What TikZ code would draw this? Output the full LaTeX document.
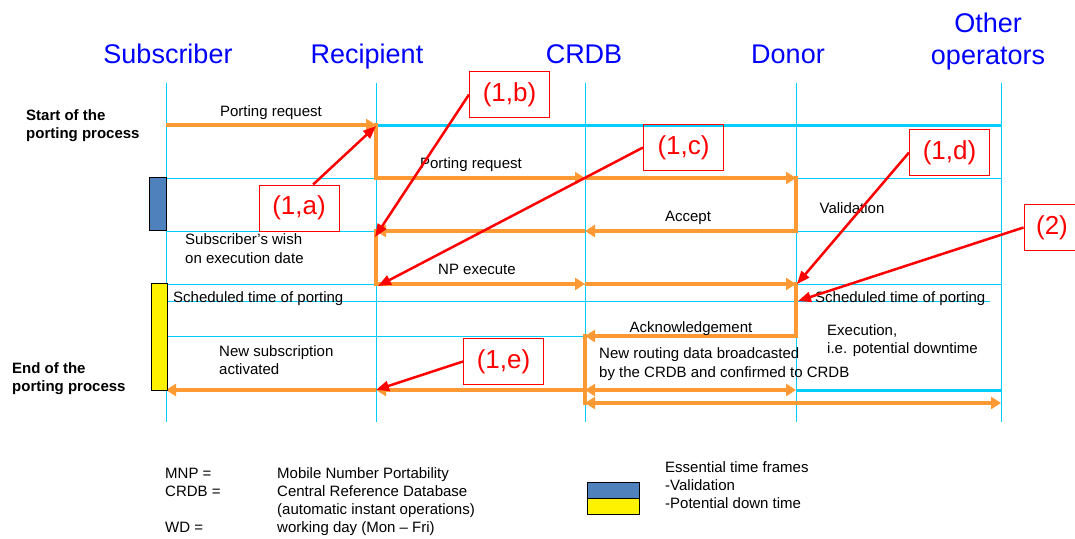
\documentclass[tikz,border=0pt]{standalone}
\usepackage{fontspec}
\setmainfont{Liberation Sans}
\usetikzlibrary{arrows.meta}
\definecolor{orng}{HTML}{FF9933}
\definecolor{cyn}{HTML}{00CCFF}
\definecolor{barblue}{HTML}{4F81BD}
\definecolor{hdrblue}{HTML}{0000FF}
\begin{document}
\begin{tikzpicture}[x=1pt,y=-1pt,
  lbl/.style={font=\fontsize{15}{18}\selectfont, inner sep=0pt, align=left},
  boldlbl/.style={lbl, font=\fontsize{15}{18}\selectfont\bfseries},
  hdr/.style={font=\fontsize{27}{32}\selectfont, text=hdrblue, inner sep=0pt},
  gridline/.style={cyn, line width=1pt},
  gridthick/.style={cyn, line width=3pt},
  flow/.style={orng, line width=4pt, line cap=rect},
  flowarr/.style={orng, line width=4pt, -{Triangle[length=10pt,width=12pt]}},
  flowdbl/.style={orng, line width=4pt, {Triangle[length=10pt,width=12pt]}-{Triangle[length=10pt,width=12pt]}},
  callout/.style={draw=red, line width=1pt, text=red, font=\fontsize{26}{30}\selectfont, minimum width=80pt, minimum height=46pt, inner sep=0pt},
  callarr/.style={red, line width=2.5pt, -{Triangle[length=13pt,width=10pt]}},
  bar/.style={draw=black, line width=1pt}
]
\useasboundingbox (0,0) rectangle (1075,538);
\clip (0,0) rectangle (1075,538);

% lifelines
\coordinate (S) at (166,83);  \coordinate (Sb) at (166,422);
\coordinate (R) at (376,83);  \coordinate (Rb) at (376,422);
\coordinate (C) at (585,83);  \coordinate (Cb) at (585,422);
\coordinate (D) at (796,83);  \coordinate (Db) at (796,422);
\coordinate (O) at (1001,83); \coordinate (Ob) at (1001,422);
% rows
\coordinate (y1) at (0,125);
\coordinate (y2) at (0,178);
\coordinate (y3) at (0,231);
\coordinate (y4) at (0,284);
\coordinate (y5) at (0,301);
\coordinate (y6) at (0,336);
\coordinate (y7) at (0,390);
\coordinate (y8) at (0,403);
\coordinate (e5) at (990,301);

% headers
\node[hdr, anchor=base] (hS) at (168,63) {Subscriber};
\node[hdr, anchor=base] (hR) at (367,63) {Recipient};
\node[hdr, anchor=base] (hC) at (584,63) {CRDB};
\node[hdr, anchor=base] (hD) at (788,63) {Donor};
\node[hdr, anchor=base] (hO1) at (988,32) {Other};
\node[hdr, anchor=base] (hO2) at (988,64) {operators};

% grid
\foreach \l in {S,R,C,D,O} {\draw[gridline] (\l) -- (\l b);}
\draw[gridthick] (R|-y1) -- (O|-y1);
\draw[gridline] (S|-y2) -- (O|-y2);
\draw[gridline] (S|-y3) -- (O|-y3);
\draw[gridline] (S|-y4) -- (O|-y4);
\draw[gridline] (S|-y5) -- (e5);
\draw[gridline] (S|-y6) -- (C|-y6);
\draw[gridthick] (D|-y7) -- (O|-y7);

% orange flow
\draw[flow] (R|-y1) -- (R|-y2);
\draw[flow] (D|-y2) -- (D|-y3);
\draw[flow] (R|-y3) -- (R|-y4);
\draw[flow] (D|-y4) -- (D|-y6);
\draw[flow] (C|-y6) -- (C|-y8);
\draw[flowarr] (S|-y1) -- (R|-y1);
\draw[flowarr] (R|-y2) -- (C|-y2);
\draw[flowarr] (C|-y2) -- (D|-y2);
\draw[flowarr] (D|-y3) -- (C|-y3);
\draw[flowarr] (C|-y3) -- (R|-y3);
\draw[flowarr] (R|-y4) -- (C|-y4);
\draw[flowarr] (C|-y4) -- (D|-y4);
\draw[flowarr] (D|-y6) -- (C|-y6);
\draw[flowarr] (C|-y7) -- (R|-y7);
\draw[flowarr] (R|-y7) -- (S|-y7);
\draw[flowdbl] (C|-y7) -- (D|-y7);
\draw[flowdbl] (C|-y8) -- (O|-y8);

% time-frame bars
\draw[bar, fill=barblue] (149,177) rectangle (166,230);
\draw[bar, fill=yellow] (151,283) rectangle (167,390);

% labels
\node[boldlbl, anchor=north west] (start) at (26,109) {Start of the\\porting process};
\node[boldlbl, anchor=north west] (end) at (12,362) {End of the\\porting process};
\node[lbl, anchor=base] (m1) at (271,116) {Porting request};
\node[lbl, anchor=base] (m2) at (471,168) {Porting request};
\node[lbl, anchor=base] (m3) at (688,221) {Accept};
\node[lbl, anchor=base] (val) at (852,213) {Validation};
\node[lbl, anchor=north west, font=\fontsize{15}{19}\selectfont] (wish) at (185,233) {Subscriber's wish\\on execution date};
\node[lbl, anchor=base] (m4) at (477,274) {NP execute};
\node[lbl, anchor=base west] (sch1) at (173,302) {Scheduled time of porting};
\node[lbl, anchor=base west] (sch2) at (815,302) {Scheduled time of porting};
\node[lbl, anchor=base] (m5) at (691,332) {Acknowledgement};
\node[lbl, anchor=north west] (exe) at (827,324) {Execution,\\i.e. potential downtime};
\node[lbl, anchor=north west] (nsub) at (219,345) {New subscription\\activated};
\node[lbl, anchor=north west, font=\fontsize{15}{19}\selectfont] (nrout) at (599,347) {New routing data broadcasted\\by the CRDB and confirmed to CRDB};

% callouts
\node[callout] (ca) at (299,208) {(1,a)};
\node[callout] (cb) at (509.5,94.5) {(1,b)};
\node[callout] (cc) at (683.5,147.5) {(1,c)};
\node[callout] (cd) at (949.5,152.5) {(1,d)};
\node[callout, minimum width=56pt] (c2) at (1052,227.5) {(2)};
\node[callout] (ce) at (503.5,361.5) {(1,e)};
\coordinate (ta) at (376,126);
\coordinate (tb) at (375,237);
\coordinate (tc) at (378,286);
\coordinate (td) at (797,284);
\coordinate (t2) at (798,301);
\coordinate (te) at (376,390);
\draw[callarr] (ca.59) -- (ta);
\draw[callarr] (cb.west) -- (tb);
\draw[callarr] (cc.west) -- (tc);
\draw[callarr] (cd.west) -- (td);
\draw[callarr] (c2.west) -- (t2);
\draw[callarr] (ce.west) -- (te);

% legend
\node[lbl, anchor=base west] (k1) at (165,478) {MNP =};
\node[lbl, anchor=base west] (v1) at (277,478) {Mobile Number Portability};
\node[lbl, anchor=base west] (k2) at (165,496) {CRDB =};
\node[lbl, anchor=base west] (v2) at (277,496) {Central Reference Database};
\node[lbl, anchor=base west] (v3) at (277,514) {(automatic instant operations)};
\node[lbl, anchor=base west] (k4) at (165,532) {WD =};
\node[lbl, anchor=base west] (v4) at (277,532) {working day (Mon -- Fri)};
\draw[bar, fill=barblue] (587,482) rectangle (639,498);
\draw[bar, fill=yellow] (587,498) rectangle (639,514);
\node[lbl, anchor=north west] (ess) at (665,461) {Essential time frames\\-Validation\\-Potential down time};
\end{tikzpicture}
\end{document}
